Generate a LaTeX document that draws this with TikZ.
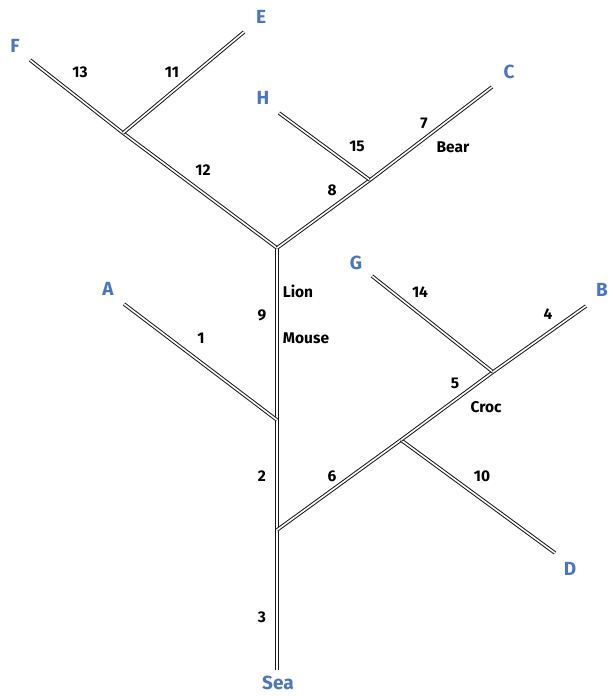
\documentclass[tikz,border=0pt]{standalone}
\usepackage{fontspec}
\setmainfont{Fira Sans}
\definecolor{tipblue}{HTML}{4A76C0}
\begin{document}
\begin{tikzpicture}[x=1pt,y=-1pt,
  branch/.style={draw=black!90,line width=1pt,double=white,double distance=1.6pt},
  tip/.style={text=tipblue,font=\fontsize{19}{21}\selectfont\bfseries,inner sep=0pt},
  lbl/.style={text=black,font=\fontsize{15.5}{17}\selectfont\bfseries,inner sep=0pt},
  pt/.style={inner sep=0pt,minimum size=0pt}]
\useasboundingbox (0,0) rectangle (613,696);
% branching points
\coordinate (sea) at (277,670);
\coordinate (n6) at (277,530);
\coordinate (n1) at (277,420);
\coordinate (top) at (277,248);
\coordinate (nfe) at (123,133);
\coordinate (nhc) at (370,180);
\coordinate (nd) at (401,440);
\coordinate (ngb) at (493,372);
% leaf ends
\coordinate (ea) at (124,304);
\coordinate (ef) at (30,60);
\coordinate (ee) at (244,32);
\coordinate (eh) at (279,113);
\coordinate (ec) at (492,87);
\coordinate (ed) at (555,553);
\coordinate (eg) at (372,276);
\coordinate (eb) at (586,306);
% tree
\draw[branch] (sea) -- (top);
\draw[branch] (n6) -- (nd);
\draw[branch] (n1) -- (ea);
\draw[branch] (top) -- (nfe);
\draw[branch] (top) -- (nhc);
\draw[branch] (nfe) -- (ef);
\draw[branch] (nfe) -- (ee);
\draw[branch] (nhc) -- (eh);
\draw[branch] (nhc) -- (ec);
\draw[branch] (nd) -- (ed);
\draw[branch] (nd) -- (ngb);
\draw[branch] (ngb) -- (eg);
\draw[branch] (ngb) -- (eb);
% tip names
\node[tip] (tF) at (15,46) {F};
\node[tip] (tE) at (261,17) {E};
\node[tip] (tH) at (263,98) {H};
\node[tip] (tC) at (509,72) {C};
\node[tip] (tA) at (108,289) {A};
\node[tip] (tG) at (356,263) {G};
\node[tip] (tB) at (602,290) {B};
\node[tip] (tD) at (570,569) {D};
\node[tip] (tSea) at (278,683) {Sea};
% branch labels
\node[lbl] (l13) at (80,72) {13};
\node[lbl] (l11) at (172,72) {11};
\node[lbl] (l12) at (203,170) {12};
\node[lbl] (l15) at (357,146) {15};
\node[lbl] (l7) at (424,123) {7};
\node[lbl] (lBear) at (453,147) {Bear};
\node[lbl] (l8) at (332,190) {8};
\node[lbl] (lLion) at (298,291) {Lion};
\node[lbl] (l9) at (262,315) {9};
\node[lbl] (lMouse) at (306,338) {Mouse};
\node[lbl] (l1) at (201,338) {1};
\node[lbl] (l14) at (420,292) {14};
\node[lbl] (l4) at (548,314) {4};
\node[lbl] (l5) at (455,383) {5};
\node[lbl] (lCroc) at (486,407) {Croc};
\node[lbl] (l10) at (482,476) {10};
\node[lbl] (l2) at (262,476) {2};
\node[lbl] (l6) at (332,476) {6};
\node[lbl] (l3) at (262,617) {3};
\end{tikzpicture}
\end{document}
